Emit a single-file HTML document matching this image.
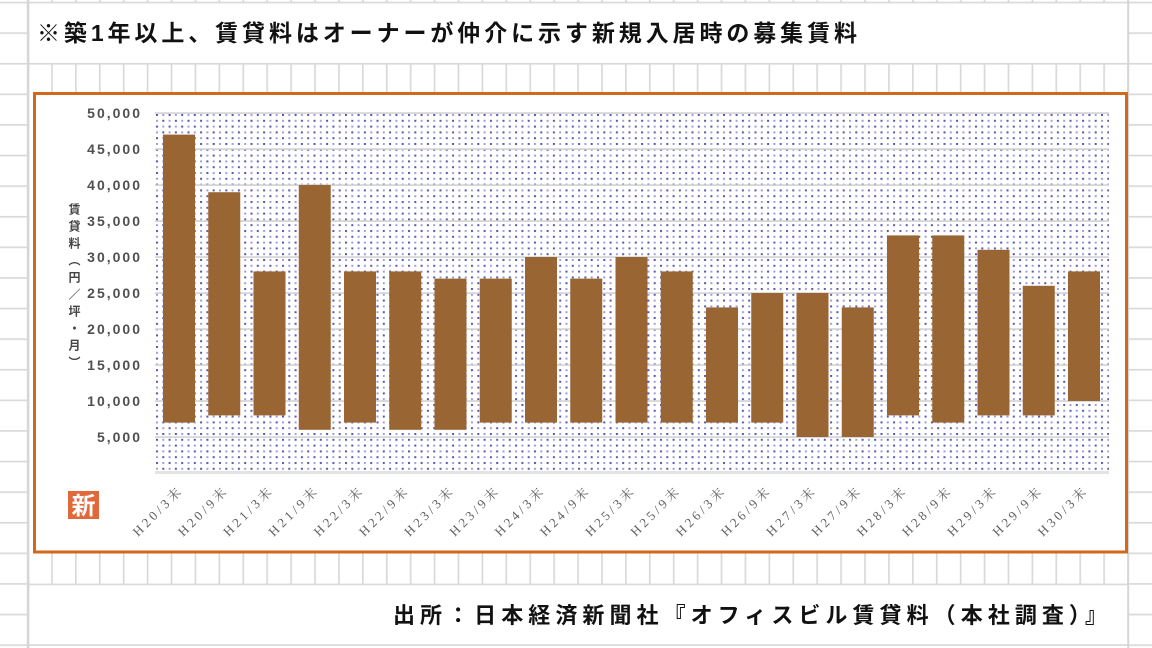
<!DOCTYPE html>
<html>
<head>
<meta charset="utf-8">
<style>
  html,body{margin:0;padding:0;background:#fff;}
  body{width:1152px;height:648px;position:relative;overflow:hidden;}
  svg{position:absolute;left:0;top:0;}
  .ytitle{position:absolute;left:67px;top:203px;writing-mode:vertical-rl;font-family:"Liberation Sans","Noto Sans CJK JP",sans-serif;font-weight:bold;font-size:12px;letter-spacing:5px;line-height:13px;color:#444;}
</style>
</head>
<body>
<svg width="1152" height="648" viewBox="0 0 1152 648" xmlns="http://www.w3.org/2000/svg">
  <defs>
    <pattern id="vgrid" x="27.2" y="0" width="23.913" height="10" patternUnits="userSpaceOnUse">
      <rect x="0" y="0" width="1.7" height="10" fill="#d9d9d9"/>
    </pattern>
    <pattern id="hgrid" x="0" y="1.7" width="10" height="30.6" patternUnits="userSpaceOnUse">
      <rect x="0" y="0" width="10" height="1.7" fill="#d9d9d9"/>
    </pattern>
    <pattern id="dots" x="156" y="114" width="12.6" height="11.6" patternUnits="userSpaceOnUse">
      <rect x="0" y="0" width="12.6" height="11.6" fill="#ffffff"/>
      <rect x="0" y="0" width="2" height="2" fill="#5555b5"/>
      <rect x="6.3" y="0" width="2" height="2" fill="#a0a0d6"/>
      <rect x="0" y="5.8" width="2" height="2" fill="#a0a0d6"/>
      <rect x="6.3" y="5.8" width="2" height="2" fill="#5555b5"/>
    </pattern>
  </defs>

  <rect x="0" y="0" width="1152" height="648" fill="#ffffff"/>

  <!-- spreadsheet grid -->
  <rect x="0" y="0" width="27" height="648" fill="url(#hgrid)"/>
  <rect x="1129" y="0" width="23" height="648" fill="url(#hgrid)"/>
  <rect x="28" y="0" width="1100" height="3" fill="url(#vgrid)"/>
  <rect x="28" y="63" width="1100" height="31" fill="url(#vgrid)"/>
  <rect x="28" y="553" width="1100" height="32" fill="url(#vgrid)"/>
  <rect x="28" y="1.7" width="1100" height="1.7" fill="#d9d9d9"/>
  <rect x="28" y="62.9" width="1100" height="1.7" fill="#d9d9d9"/>
  <rect x="28" y="583.6" width="1100" height="1.7" fill="#d9d9d9"/>
  <rect x="28" y="644.2" width="1100" height="1.7" fill="#d9d9d9"/>
  <rect x="26.8" y="0" width="2.6" height="648" fill="#d6d6d6"/>
  <rect x="1127.2" y="0" width="2" height="648" fill="#d6d6d6"/>

  <!-- title -->
  <text x="37" y="41" font-family="Liberation Sans, Noto Sans CJK JP, sans-serif" font-size="23" font-weight="bold" fill="#111" textLength="820" lengthAdjust="spacing">※築1年以上、賃貸料はオーナーが仲介に示す新規入居時の募集賃料</text>

  <!-- chart frame -->
  <rect x="34.5" y="93.5" width="1092" height="458.5" fill="#ffffff" stroke="#d2691a" stroke-width="3"/>

  <!-- plot area -->
  <rect x="155" y="113" width="954" height="359" fill="url(#dots)"/>
  <g fill="#cfcfcf">
    <rect x="155" y="112.3" width="954" height="1.5"/>
    <rect x="155" y="148.3" width="954" height="1.5"/>
    <rect x="155" y="184.3" width="954" height="1.5"/>
    <rect x="155" y="220.3" width="954" height="1.5"/>
    <rect x="155" y="256.3" width="954" height="1.5"/>
    <rect x="155" y="292.3" width="954" height="1.5"/>
    <rect x="155" y="328.3" width="954" height="1.5"/>
    <rect x="155" y="364.3" width="954" height="1.5"/>
    <rect x="155" y="400.3" width="954" height="1.5"/>
    <rect x="155" y="436.3" width="954" height="1.5"/>
  </g>
  <rect x="155" y="471" width="954" height="3" fill="#e3e3e3"/>

  <!-- bars -->
  <g fill="#996633">
    <rect x="163" y="134.6" width="32" height="288"/>
    <rect x="208.25" y="192.2" width="32" height="223.2"/>
    <rect x="253.5" y="271.4" width="32" height="144"/>
    <rect x="298.75" y="185" width="32" height="244.8"/>
    <rect x="344" y="271.4" width="32" height="151.2"/>
    <rect x="389.25" y="271.4" width="32" height="158.4"/>
    <rect x="434.5" y="278.6" width="32" height="151.2"/>
    <rect x="479.75" y="278.6" width="32" height="144"/>
    <rect x="525" y="257" width="32" height="165.6"/>
    <rect x="570.25" y="278.6" width="32" height="144"/>
    <rect x="615.5" y="257" width="32" height="165.6"/>
    <rect x="660.75" y="271.4" width="32" height="151.2"/>
    <rect x="706" y="307.4" width="32" height="115.2"/>
    <rect x="751.25" y="293" width="32" height="129.6"/>
    <rect x="796.5" y="293" width="32" height="144"/>
    <rect x="841.75" y="307.4" width="32" height="129.6"/>
    <rect x="887" y="235.4" width="32" height="180"/>
    <rect x="932.25" y="235.4" width="32" height="187.2"/>
    <rect x="977.5" y="249.8" width="32" height="165.6"/>
    <rect x="1022.75" y="285.8" width="32" height="129.6"/>
    <rect x="1068" y="271.4" width="32" height="129.6"/>
  </g>

  <!-- y tick labels -->
  <g font-family="Liberation Sans, sans-serif" font-size="14" font-weight="bold" fill="#505050" text-anchor="end" letter-spacing="2">
    <text x="142" y="118">50,000</text>
    <text x="142" y="154">45,000</text>
    <text x="142" y="190">40,000</text>
    <text x="142" y="226">35,000</text>
    <text x="142" y="262">30,000</text>
    <text x="142" y="298">25,000</text>
    <text x="142" y="334">20,000</text>
    <text x="142" y="370">15,000</text>
    <text x="142" y="406">10,000</text>
    <text x="142" y="442">5,000</text>
  </g>

  <!-- x labels -->
  <g font-family="Liberation Serif, Noto Serif CJK SC, serif" font-size="13" fill="#606060">
    <text transform="translate(138,537) rotate(-45)" textLength="62" lengthAdjust="spacing">H20/3末</text>
    <text transform="translate(183.25,537) rotate(-45)" textLength="62" lengthAdjust="spacing">H20/9末</text>
    <text transform="translate(228.5,537) rotate(-45)" textLength="62" lengthAdjust="spacing">H21/3末</text>
    <text transform="translate(273.75,537) rotate(-45)" textLength="62" lengthAdjust="spacing">H21/9末</text>
    <text transform="translate(319,537) rotate(-45)" textLength="62" lengthAdjust="spacing">H22/3末</text>
    <text transform="translate(364.25,537) rotate(-45)" textLength="62" lengthAdjust="spacing">H22/9末</text>
    <text transform="translate(409.5,537) rotate(-45)" textLength="62" lengthAdjust="spacing">H23/3末</text>
    <text transform="translate(454.75,537) rotate(-45)" textLength="62" lengthAdjust="spacing">H23/9末</text>
    <text transform="translate(500,537) rotate(-45)" textLength="62" lengthAdjust="spacing">H24/3末</text>
    <text transform="translate(545.25,537) rotate(-45)" textLength="62" lengthAdjust="spacing">H24/9末</text>
    <text transform="translate(590.5,537) rotate(-45)" textLength="62" lengthAdjust="spacing">H25/3末</text>
    <text transform="translate(635.75,537) rotate(-45)" textLength="62" lengthAdjust="spacing">H25/9末</text>
    <text transform="translate(681,537) rotate(-45)" textLength="62" lengthAdjust="spacing">H26/3末</text>
    <text transform="translate(726.25,537) rotate(-45)" textLength="62" lengthAdjust="spacing">H26/9末</text>
    <text transform="translate(771.5,537) rotate(-45)" textLength="62" lengthAdjust="spacing">H27/3末</text>
    <text transform="translate(816.75,537) rotate(-45)" textLength="62" lengthAdjust="spacing">H27/9末</text>
    <text transform="translate(862,537) rotate(-45)" textLength="62" lengthAdjust="spacing">H28/3末</text>
    <text transform="translate(907.25,537) rotate(-45)" textLength="62" lengthAdjust="spacing">H28/9末</text>
    <text transform="translate(952.5,537) rotate(-45)" textLength="62" lengthAdjust="spacing">H29/3末</text>
    <text transform="translate(997.75,537) rotate(-45)" textLength="62" lengthAdjust="spacing">H29/9末</text>
    <text transform="translate(1043,537) rotate(-45)" textLength="62" lengthAdjust="spacing">H30/3末</text>
  </g>

  <!-- 新 stamp -->
  <rect x="68" y="491" width="31" height="28" fill="#e0683a"/>
  <text x="83.5" y="514" text-anchor="middle" font-family="Liberation Sans, Noto Sans CJK JP, sans-serif" font-size="24" font-weight="bold" fill="#ffffff">新</text>

  <!-- source -->
  <text x="393" y="623" font-family="Liberation Sans, Noto Sans CJK JP, sans-serif" font-size="22" font-weight="bold" fill="#111" textLength="714" lengthAdjust="spacing">出所：日本経済新聞社『オフィスビル賃貸料（本社調査）』</text>
</svg>
<div class="ytitle">賃貸料（円／坪・月）</div>
</body>
</html>
